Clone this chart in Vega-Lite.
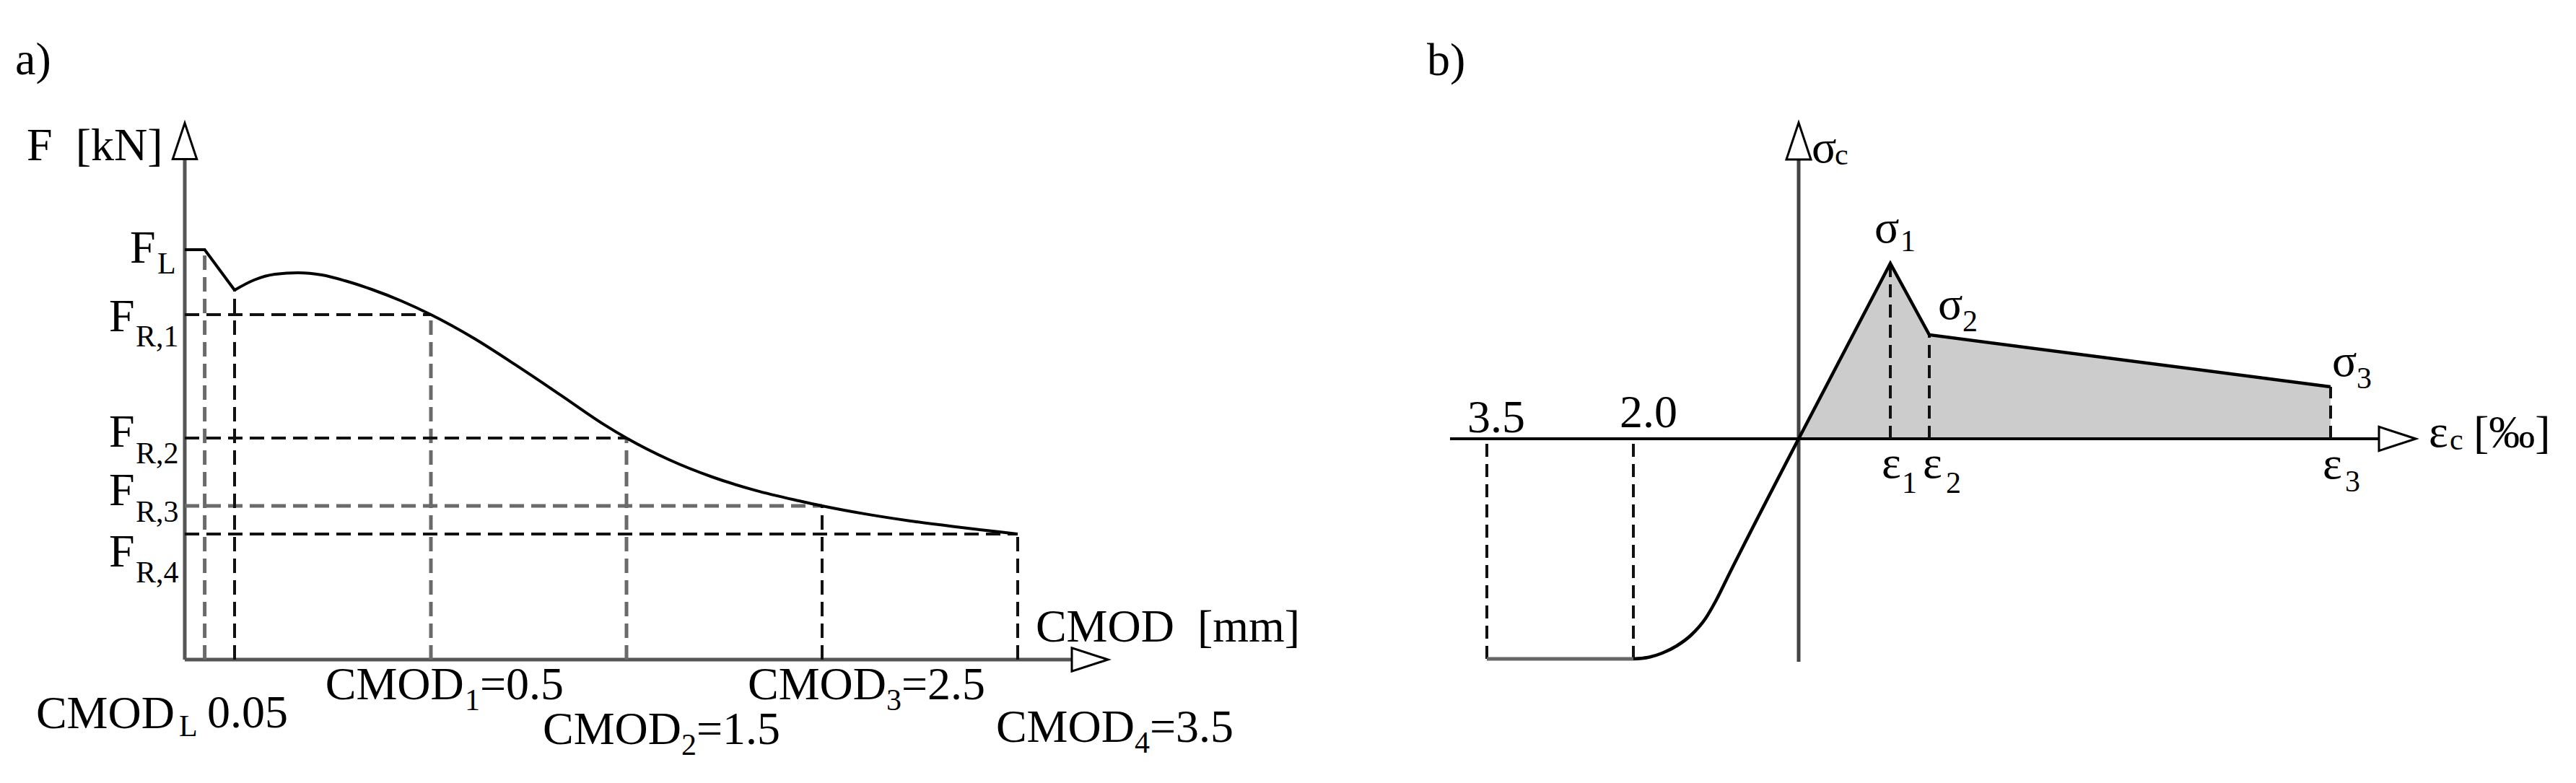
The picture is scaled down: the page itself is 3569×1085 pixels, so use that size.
{
  "$schema": "https://vega.github.io/schema/vega-lite/v6.json",
  "background": "white",
  "padding": 0,
  "spacing": 0,
  "config": {"view": {"stroke": null}, "concat": {"spacing": 0}},
  "hconcat": [
    {
      "width": 1900,
      "height": 1085,
      "encoding": {
        "x": {"field": "x", "type": "quantitative", "axis": null,
              "scale": {"domain": [-1, 0, 0.05, 0.5, 3.5, 5.308], "range": [0, 256, 325, 597, 1410, 1900], "nice": false, "zero": false}},
        "y": {"field": "y", "type": "quantitative", "axis": null,
              "scale": {"domain": [-3.42, 18.28], "nice": false, "zero": false}}
      },
      "layer": [
        {
          "data": {"values": [
            {"x": 0, "y": 0, "x2": 3.78, "y2": 0},
            {"x": 0, "y": 0, "x2": 0, "y2": 13.86}
          ]},
          "mark": {"type": "rule", "color": "#555555", "strokeWidth": 5},
          "encoding": {"x2": {"field": "x2"}, "y2": {"field": "y2"}}
        },
        {
          "data": {"values": [
            {"x": 0.02, "y": 0, "x2": 0.02, "y2": 11.36},
            {"x": 0.5, "y": 0, "x2": 0.5, "y2": 9.56},
            {"x": 1.5, "y": 0, "x2": 1.5, "y2": 6.14},
            {"x": 0, "y": 4.26, "x2": 2.5, "y2": 4.26}
          ]},
          "mark": {"type": "rule", "color": "#6a6a6a", "strokeWidth": 5, "strokeDash": [20, 10]},
          "encoding": {"x2": {"field": "x2"}, "y2": {"field": "y2"}}
        },
        {
          "data": {"values": [
            {"x": 0.05, "y": 0, "x2": 0.05, "y2": 10.24},
            {"x": 2.5, "y": 0, "x2": 2.5, "y2": 4.26},
            {"x": 3.5, "y": 0, "x2": 3.5, "y2": 3.48},
            {"x": 0, "y": 9.56, "x2": 0.5, "y2": 9.56},
            {"x": 0, "y": 6.14, "x2": 1.5, "y2": 6.14},
            {"x": 0, "y": 3.48, "x2": 3.5, "y2": 3.48}
          ]},
          "mark": {"type": "rule", "color": "#111111", "strokeWidth": 4, "strokeDash": [20, 10]},
          "encoding": {"x2": {"field": "x2"}, "y2": {"field": "y2"}}
        },
        {
          "data": {"values": [
            {"x": 0, "y": 11.36},
            {"x": 0.02, "y": 11.36},
            {"x": 0.05, "y": 10.24}
          ]},
          "mark": {"type": "line", "color": "#000000", "strokeWidth": 4, "interpolate": "linear"},
          "encoding": {}
        },
        {
          "data": {"values": [
            {"x": 0.05, "y": 10.24},
            {"x": 0.0947, "y": 10.52},
            {"x": 0.1426, "y": 10.68},
            {"x": 0.1956, "y": 10.72},
            {"x": 0.2502, "y": 10.66},
            {"x": 0.3031, "y": 10.5},
            {"x": 0.3643, "y": 10.26},
            {"x": 0.4322, "y": 9.94},
            {"x": 0.5, "y": 9.56},
            {"x": 0.7214, "y": 8.9},
            {"x": 0.9428, "y": 8.132},
            {"x": 1.1642, "y": 7.328},
            {"x": 1.3856, "y": 6.512},
            {"x": 1.5, "y": 6.14},
            {"x": 1.7177, "y": 5.54},
            {"x": 1.9391, "y": 5.06},
            {"x": 2.1605, "y": 4.688},
            {"x": 2.3819, "y": 4.4},
            {"x": 2.5, "y": 4.26},
            {"x": 2.7251, "y": 4.032},
            {"x": 2.9465, "y": 3.846},
            {"x": 3.1679, "y": 3.69},
            {"x": 3.3893, "y": 3.55},
            {"x": 3.5, "y": 3.48}
          ]},
          "mark": {"type": "line", "color": "#000000", "strokeWidth": 4, "interpolate": "monotone"},
          "encoding": {}
        },
        {
          "data": {"values": [
            {"x": 0, "y": 14.37, "dir": "up"},
            {"x": 3.869, "y": 0, "dir": "right"}
          ]},
          "mark": {"type": "point", "fill": "white", "stroke": "#000000", "strokeWidth": 3, "opacity": 1, "size": 2500},
          "encoding": {
            "shape": {"field": "dir", "type": "nominal", "legend": null,
                      "scale": {"domain": ["up", "right"], "range": ["M0,-1L0.667,1L-0.667,1Z", "M1,0L-1,-0.65L-1,0.65Z"]}}
          }
        },
        {
          "data": {"values": [
            {"x": -0.918, "y": 16.22, "t": "a)"},
            {"x": -0.855, "y": 13.84, "t": "F\u00a0\u00a0[kN]"},
            {"x": -0.297, "y": 11.0, "t": "F"},
            {"x": -0.41, "y": 9.1, "t": "F"},
            {"x": -0.41, "y": 5.9, "t": "F"},
            {"x": -0.41, "y": 4.28, "t": "F"},
            {"x": -0.41, "y": 2.58, "t": "F"},
            {"x": -0.805, "y": -1.9, "t": "CMOD"},
            {"x": 0.0225, "y": -1.88, "t": "0.05"},
            {"x": 0.258, "y": -1.1, "t": "CMOD"},
            {"x": 0.751, "y": -1.1, "t": "=0.5"},
            {"x": 1.072, "y": -2.34, "t": "CMOD"},
            {"x": 1.858, "y": -2.34, "t": "=1.5"},
            {"x": 2.12, "y": -1.1, "t": "CMOD"},
            {"x": 2.906, "y": -1.1, "t": "=2.5"},
            {"x": 3.389, "y": -2.28, "t": "CMOD"},
            {"x": 4.175, "y": -2.28, "t": "=3.5"},
            {"x": 3.592, "y": 0.5, "t": "CMOD\u00a0\u00a0[mm]"}
          ]},
          "mark": {"type": "text", "font": "Liberation Serif", "fontSize": 64, "align": "left", "baseline": "alphabetic", "color": "#000000"},
          "encoding": {"text": {"field": "t"}}
        },
        {
          "data": {"values": [
            {"x": -0.148, "y": 10.7, "t": "L"},
            {"x": -0.266, "y": 8.68, "t": "R,1"},
            {"x": -0.266, "y": 5.44, "t": "R,2"},
            {"x": -0.266, "y": 3.82, "t": "R,3"},
            {"x": -0.266, "y": 2.14, "t": "R,4"},
            {"x": -0.031, "y": -2.12, "t": "L"},
            {"x": 0.673, "y": -1.4, "t": "1"},
            {"x": 1.78, "y": -2.64, "t": "2"},
            {"x": 2.828, "y": -1.4, "t": "3"},
            {"x": 4.098, "y": -2.58, "t": "4"}
          ]},
          "mark": {"type": "text", "font": "Liberation Serif", "fontSize": 42, "align": "left", "baseline": "alphabetic", "color": "#000000"},
          "encoding": {"text": {"field": "t"}}
        }
      ]
    },
    {
      "width": 1669,
      "height": 1085,
      "encoding": {
        "x": {"field": "x", "type": "quantitative", "axis": null,
              "scale": {"domain": [-4.5, -3.5, -2, 0, 10.77], "range": [0, 160, 363, 592, 1669], "nice": false, "zero": false}},
        "y": {"field": "y", "type": "quantitative", "axis": null,
              "scale": {"domain": [-9.54, 12.16], "nice": false, "zero": false}}
      },
      "layer": [
        {
          "data": {"values": [
            {"x": 0, "y": 0},
            {"x": 1.27, "y": 4.86},
            {"x": 1.81, "y": 2.88},
            {"x": 7.37, "y": 1.44}
          ]},
          "mark": {"type": "area", "color": "#cccccc", "interpolate": "linear", "opacity": 1},
          "encoding": {"y2": {"datum": 0}}
        },
        {
          "data": {"values": [
            {"x": 0, "y": -6.18, "x2": 0, "y2": 7.74}
          ]},
          "mark": {"type": "rule", "color": "#444444", "strokeWidth": 5},
          "encoding": {"x2": {"field": "x2"}, "y2": {"field": "y2"}}
        },
        {
          "data": {"values": [
            {"x": -3.819, "y": 0, "x2": 8.04, "y2": 0}
          ]},
          "mark": {"type": "rule", "color": "#000000", "strokeWidth": 4},
          "encoding": {"x2": {"field": "x2"}, "y2": {"field": "y2"}}
        },
        {
          "data": {"values": [
            {"x": -3.5, "y": -6.1, "x2": -3.5, "y2": 0},
            {"x": -2, "y": -6.1, "x2": -2, "y2": 0},
            {"x": 1.27, "y": 0, "x2": 1.27, "y2": 4.86},
            {"x": 1.81, "y": 0, "x2": 1.81, "y2": 2.88},
            {"x": 7.37, "y": 0, "x2": 7.37, "y2": 1.44}
          ]},
          "mark": {"type": "rule", "color": "#111111", "strokeWidth": 4, "strokeDash": [18, 10]},
          "encoding": {"x2": {"field": "x2"}, "y2": {"field": "y2"}}
        },
        {
          "data": {"values": [
            {"x": -3.5, "y": -6.1, "x2": -2, "y2": -6.1}
          ]},
          "mark": {"type": "rule", "color": "#666666", "strokeWidth": 5},
          "encoding": {"x2": {"field": "x2"}, "y2": {"field": "y2"}}
        },
        {
          "data": {"values": [
            {"x": -2, "y": -6.1},
            {"x": -1.825, "y": -6.06},
            {"x": -1.651, "y": -5.94},
            {"x": -1.476, "y": -5.74},
            {"x": -1.301, "y": -5.44},
            {"x": -1.127, "y": -4.98},
            {"x": -1.004, "y": -4.5},
            {"x": -0.83, "y": -3.7},
            {"x": 0, "y": 0}
          ]},
          "mark": {"type": "line", "color": "#000000", "strokeWidth": 4.5, "interpolate": "monotone"},
          "encoding": {}
        },
        {
          "data": {"values": [
            {"x": 0, "y": 0},
            {"x": 1.27, "y": 4.86},
            {"x": 1.81, "y": 2.88},
            {"x": 7.37, "y": 1.44}
          ]},
          "mark": {"type": "line", "color": "#000000", "strokeWidth": 4.5, "interpolate": "linear"},
          "encoding": {}
        },
        {
          "data": {"values": [
            {"x": 0, "y": 8.25, "dir": "up"},
            {"x": 8.295, "y": 0, "dir": "right"}
          ]},
          "mark": {"type": "point", "fill": "white", "stroke": "#000000", "strokeWidth": 3, "opacity": 1, "size": 2601},
          "encoding": {
            "shape": {"field": "dir", "type": "nominal", "legend": null,
                      "scale": {"domain": ["up", "right"], "range": ["M0,-1L0.63,1L-0.63,1Z", "M1,0L-1,-0.57L-1,0.57Z"]}}
          }
        },
        {
          "data": {"values": [
            {"x": -4.019, "y": 10.08, "t": "b)"},
            {"x": 0.18, "y": 7.66, "t": "σ"},
            {"x": 1.05, "y": 5.44, "t": "σ"},
            {"x": 1.93, "y": 3.32, "t": "σ"},
            {"x": 7.39, "y": 1.74, "t": "σ"},
            {"x": 1.15, "y": -1.08, "t": "ε"},
            {"x": 1.72, "y": -1.08, "t": "ε"},
            {"x": 7.26, "y": -1.1, "t": "ε"},
            {"x": 8.73, "y": -0.22, "t": "ε"},
            {"x": 9.35, "y": -0.24, "t": "[‰]"},
            {"x": -3.669, "y": 0.18, "t": "3.5"},
            {"x": -2.14, "y": 0.32, "t": "2.0"}
          ]},
          "mark": {"type": "text", "font": "Liberation Serif", "fontSize": 64, "align": "left", "baseline": "alphabetic", "color": "#000000"},
          "encoding": {"text": {"field": "t"}}
        },
        {
          "data": {"values": [
            {"x": 0.5, "y": 7.6, "t": "c"},
            {"x": 1.41, "y": 5.2, "t": "1"},
            {"x": 2.27, "y": 2.98, "t": "2"},
            {"x": 7.73, "y": 1.4, "t": "3"},
            {"x": 1.43, "y": -1.5, "t": "1"},
            {"x": 2.04, "y": -1.5, "t": "2"},
            {"x": 7.57, "y": -1.46, "t": "3"},
            {"x": 9.02, "y": -0.3, "t": "c"}
          ]},
          "mark": {"type": "text", "font": "Liberation Serif", "fontSize": 42, "align": "left", "baseline": "alphabetic", "color": "#000000"},
          "encoding": {"text": {"field": "t"}}
        }
      ]
    }
  ]
}
